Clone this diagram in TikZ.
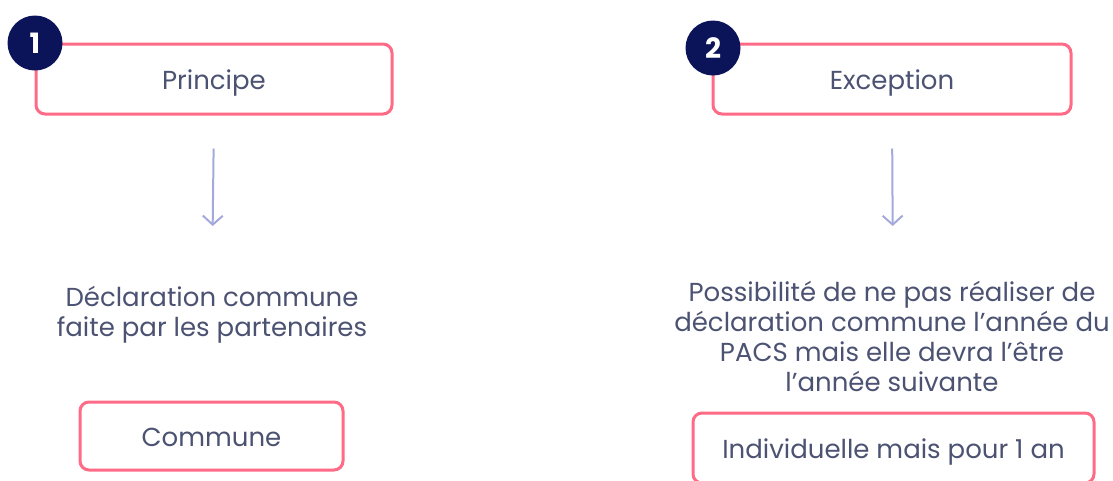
\documentclass[tikz,border=0pt]{standalone}
\usepackage{fontspec}
\setmainfont[Ligatures = NoCommon]{Poppins}
\usetikzlibrary{arrows.meta}
\definecolor{rose}{HTML}{FF6B87}
\definecolor{ardoise}{HTML}{4B5272}
\definecolor{marine}{HTML}{0C1459}
\definecolor{lavande}{HTML}{A3AADB}

\begin{document}
\begin{tikzpicture}[x=1pt, y=-1pt,
    cadre/.style = {draw = rose, line width = 3pt, rounded corners = 9pt, fill = white,
      text = ardoise, text height = 26pt, text depth = 6pt, font = \fontsize{26}{28}\selectfont},
    pastille/.style = {circle, fill = marine, minimum size = 55pt, inner sep = 0pt,
      text = white, font = \fontsize{28}{28}\selectfont\bfseries},
    texte/.style = {align = center, text = ardoise, font = \fontsize{26}{30}\selectfont},
    fleche/.style = {draw = lavande, line width = 2pt, -{Straight Barb[length = 9pt, width = 20pt]}}]
    \useasboundingbox (0, 0) rectangle (1113, 480);
    \clip (0, 0) rectangle (1113, 480);
    % colonne de gauche
    \node[cadre, minimum width = 356pt, minimum height = 70pt] (principe) at (214, 79) {Principe};
    \node[pastille] (un) at (35, 43) {1};
    \node[texte] (declaration) at (212, 315) {Déclaration commune \\ faite par les partenaires};
    \draw[fleche, shorten < = 33pt, shorten > = 57pt] (principe.south) -- (212, 283);
    \node[cadre, minimum width = 263pt, minimum height = 68pt] (commune) at (211.5, 436) {Commune};
    % colonne de droite
    \node[cadre, minimum width = 358pt, minimum height = 70pt] (exception) at (892, 79) {Exception};
    \node[pastille] (deux) at (713, 48) {2};
    \node[texte] (possibilite) at (892, 336) {Possibilité de ne pas réaliser de \\ déclaration commune l’année du \\ PACS mais elle devra l’être \\ l’année suivante};
    \draw[fleche, shorten < = 33pt, shorten > = 54pt] (exception.south) -- (893, 280);
    \node[cadre, minimum width = 401pt, minimum height = 70pt] (individuelle) at (893.5, 448) {Individuelle mais pour 1 an};
\end{tikzpicture}
\end{document}
